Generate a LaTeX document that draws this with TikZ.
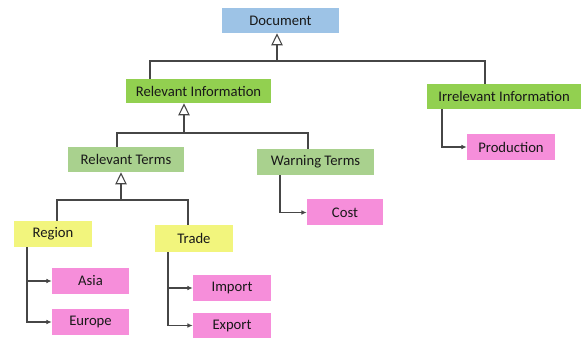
\documentclass[tikz,border=0pt]{standalone}
\usepackage{fontspec}
\setmainfont{Carlito}
\usepackage{tikz}
\usetikzlibrary{arrows.meta}

\definecolor{docblue}{RGB}{157,195,230}
\definecolor{infogreen}{RGB}{146,208,80}
\definecolor{termgreen}{RGB}{169,209,142}
\definecolor{leafyellow}{RGB}{242,245,125}
\definecolor{leafpink}{RGB}{246,142,218}
\definecolor{wire}{RGB}{70,70,70}

\begin{document}
\begin{tikzpicture}[x=0.75pt,y=0.75pt,yscale=-1,xscale=1,
    box/.style={inner sep=0pt,font=\fontsize{11}{13}\selectfont,text=black!90},
    wire/.style={draw=wire,line width=0.8pt},
    isa/.style={wire,-{Triangle[open,length=9pt,width=8.5pt,fill=white]}},
    feed/.style={wire,-{Latex[length=4pt,width=3.5pt]}}]
        \useasboundingbox (0,0) rectangle (582,342);

        %Shape: Rectangle [Document]
        \node [box,fill=docblue,minimum width=117*0.75pt,minimum height=25*0.75pt] (doc) at (280.5,20.5) {Document};
        %Shape: Rectangle [Information]
        \node [box,fill=infogreen,minimum width=145*0.75pt,minimum height=24*0.75pt] (relinfo) at (198.5,91) {Relevant Information};
        \node [box,fill=infogreen,minimum width=154*0.75pt,minimum height=25*0.75pt] (irrinfo) at (504,96.5) {Irrelevant Information};
        %Shape: Rectangle [Terms]
        \node [box,fill=termgreen,minimum width=116*0.75pt,minimum height=25*0.75pt] (relterms) at (126,159.5) {Relevant Terms};
        \node [box,fill=termgreen,minimum width=117*0.75pt,minimum height=26*0.75pt] (warn) at (315.5,162) {Warning Terms};
        %Shape: Rectangle [Region, Trade]
        \node [box,fill=leafyellow,minimum width=78*0.75pt,minimum height=26*0.75pt] (region) at (53,234) {Region};
        \node [box,fill=leafyellow,minimum width=78*0.75pt,minimum height=27*0.75pt] (trade) at (194,238.5) {Trade};
        %Shape: Rectangle [leaves]
        \node [box,fill=leafpink,minimum width=88*0.75pt,minimum height=26*0.75pt] (prod) at (511,147) {Production};
        \node [box,fill=leafpink,minimum width=76*0.75pt,minimum height=26*0.75pt] (cost) at (345,212.5) {Cost};
        \node [box,fill=leafpink,minimum width=77*0.75pt,minimum height=26*0.75pt] (asia) at (90.5,281) {Asia};
        \node [box,fill=leafpink,minimum width=77*0.75pt,minimum height=26*0.75pt] (europe) at (90.5,322) {Europe};
        \node [box,fill=leafpink,minimum width=78*0.75pt,minimum height=26*0.75pt] (import) at (232,288) {Import};
        \node [box,fill=leafpink,minimum width=78*0.75pt,minimum height=25*0.75pt] (export) at (232,325.5) {Export};

        %Straight Lines [Document level]
        \coordinate (j1) at (277,61);
        \coordinate (b1l) at (150,61);
        \coordinate (b1r) at (485,61);
        \draw [wire] (relinfo.north -| b1l) -- (b1l) -- (b1r) -- (irrinfo.north -| b1r);
        \draw [isa] (j1) -- (doc.south -| j1);

        %Straight Lines [Information level]
        \coordinate (j2) at (184,133);
        \coordinate (b2l) at (117,133);
        \coordinate (b2r) at (308,133);
        \draw [wire] (relterms.north -| b2l) -- (b2l) -- (b2r) -- (warn.north -| b2r);
        \draw [isa] (j2) -- (relinfo.south -| j2);

        %Straight Lines [Terms level]
        \coordinate (j3) at (121,200);
        \coordinate (b3l) at (57,200);
        \coordinate (b3r) at (188,200);
        \draw [wire] (region.north -| b3l) -- (b3l) -- (b3r) -- (trade.north -| b3r);
        \draw [isa] (j3) -- (relterms.south -| j3);

        %Straight Lines [to leaves]
        \coordinate (rg) at (27,0);
        \coordinate (td) at (168,0);
        \coordinate (wt) at (280,0);
        \coordinate (ir) at (442,0);
        \draw [feed] (region.south -| rg) |- (asia.west);
        \draw [feed] (region.south -| rg) |- (europe.west);
        \draw [feed] (trade.south -| td) |- (import.west);
        \draw [feed] (trade.south -| td) |- (export.west);
        \draw [feed] (warn.south -| wt) |- (cost.west);
        \draw [feed] (irrinfo.south -| ir) |- (prod.west);

    \end{tikzpicture}
\end{document}
